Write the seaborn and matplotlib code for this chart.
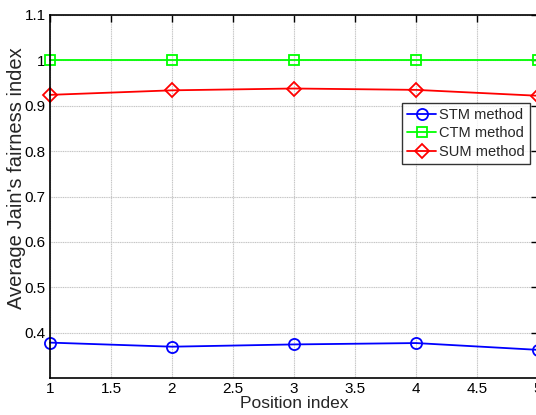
import pandas as pd
import matplotlib
matplotlib.use("Agg")
import matplotlib.pyplot as plt
import seaborn as sns

positions = [1, 2, 3, 4, 5]
stm_vals = [0.378, 0.369, 0.374, 0.377, 0.362]
ctm_vals = [1.0, 1.0, 1.0, 1.0, 1.0]
sum_vals = [0.924, 0.934, 0.938, 0.935, 0.922]
methods = ["STM method", "CTM method", "SUM method"]

df = pd.DataFrame({
    "pos": positions * 3,
    "val": stm_vals + ctm_vals + sum_vals,
    "method": [methods[0]] * 5 + [methods[1]] * 5 + [methods[2]] * 5,
})

sns.set_style("white")
plt.rcParams["font.family"] = ["Liberation Sans", "DejaVu Sans"]

fig = plt.figure(figsize=(5.36, 4.15), dpi=100)
ax = fig.add_axes([50 / 536, 1 - 378 / 415, 488 / 536, 363 / 415])

pal = {methods[0]: "#0000ff", methods[1]: "#00ff00", methods[2]: "#ff0000"}
marks = {methods[0]: "o", methods[1]: "s", methods[2]: "D"}
msize = {methods[0]: 8, methods[1]: 6.5, methods[2]: 7}
for m in methods:
    sub = df[df["method"] == m]
    sns.lineplot(data=sub, x="pos", y="val", color=pal[m], marker=marks[m],
                 markersize=msize[m], markerfacecolor="none", markeredgecolor=pal[m],
                 markeredgewidth=1.3, linewidth=1.3, label=m, ax=ax, clip_on=False)

ax.set_xlim(1, 5)
ax.set_ylim(0.3, 1.1)
ax.set_xticks([1, 1.5, 2, 2.5, 3, 3.5, 4, 4.5, 5])
ax.set_xticklabels(["1", "1.5", "2", "2.5", "3", "3.5", "4", "4.5", "5"])
ax.set_yticks([0.4, 0.5, 0.6, 0.7, 0.8, 0.9, 1.0, 1.1])
ax.set_yticklabels(["0.4", "0.5", "0.6", "0.7", "0.8", "0.9", "1", "1.1"])
ax.grid(True, linestyle=(0, (1, 0.6)), color="#c4c4c4", linewidth=0.8)
ax.tick_params(direction="in", length=5, width=1, labelsize=11, top=True, right=True,
               colors="black", pad=3)
for s in ax.spines.values():
    s.set_color("black")
    s.set_linewidth(1.2)

ax.set_xlabel("Position index", fontsize=12.5, labelpad=0)
ax.set_ylabel("Average Jain's fairness index", fontsize=14.5)
ax.yaxis.set_label_coords(-24 / 488, (378 - 178) / 363)

leg = ax.legend(loc="upper right", bbox_to_anchor=((530 - 50) / 488, (378 - 103) / 363),
                fontsize=10.5, frameon=True, fancybox=False, borderpad=0.35,
                handlelength=2.0, handletextpad=0.2, labelspacing=0.3, borderaxespad=0)
leg.get_frame().set_edgecolor("black")
leg.get_frame().set_linewidth(1.0)

fig.savefig("out.png", dpi=100)
